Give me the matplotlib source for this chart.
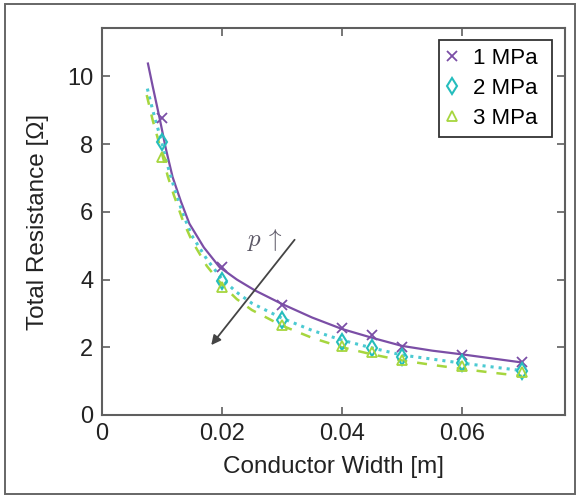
import matplotlib.pyplot as plt
from matplotlib.patches import Rectangle

plt.rcParams['font.family'] = ['Liberation Sans', 'DejaVu Sans']

# measured points
width = [0.01, 0.02, 0.03, 0.04, 0.045, 0.05, 0.06, 0.07]
r_1mpa = [8.78, 4.37, 3.26, 2.57, 2.35, 2.00, 1.78, 1.56]
r_2mpa = [8.05, 3.95, 2.82, 2.15, 1.98, 1.70, 1.53, 1.29]
r_3mpa = [7.62, 3.78, 2.67, 2.05, 1.85, 1.63, 1.46, 1.26]

# fitted curves
fit_w1 = [0.0077, 0.0085, 0.0096, 0.0107, 0.0118, 0.0132, 0.0146, 0.017, 0.0196, 0.0225,
          0.0255, 0.030, 0.035, 0.040, 0.045, 0.050, 0.055, 0.060, 0.065, 0.070]
fit_r1 = [10.38, 9.70, 8.80, 7.85, 7.03, 6.30, 5.65, 4.95, 4.37, 4.00,
          3.68, 3.28, 2.88, 2.54, 2.28, 2.04, 1.90, 1.79, 1.67, 1.55]
fit_w2 = [0.0076, 0.0085, 0.010, 0.011, 0.012, 0.0135, 0.015, 0.0175, 0.020, 0.0225,
          0.025, 0.030, 0.035, 0.040, 0.045, 0.050, 0.055, 0.060, 0.065, 0.070]
fit_r2 = [9.64, 9.00, 8.05, 7.35, 6.75, 5.95, 5.30, 4.60, 4.02, 3.62,
          3.30, 2.86, 2.50, 2.21, 1.98, 1.77, 1.65, 1.53, 1.42, 1.31]
fit_w3 = [0.0075, 0.0085, 0.010, 0.011, 0.012, 0.0135, 0.015, 0.0175, 0.020, 0.0225,
          0.025, 0.030, 0.035, 0.040, 0.045, 0.050, 0.055, 0.060, 0.065, 0.070]
fit_r3 = [9.45, 8.70, 7.75, 7.05, 6.50, 5.75, 5.15, 4.40, 3.85, 3.42,
          3.10, 2.64, 2.28, 2.00, 1.79, 1.61, 1.48, 1.36, 1.25, 1.15]

purple = '#7b4ea6'
teal = '#25bdbd'
cyan = '#4ccad2'
green = '#a6d63e'
frame = '#5f5f5f'

fig = plt.figure(figsize=(5.8, 4.98), dpi=100)
fig.patches.append(Rectangle((0.008, 0.008), 0.984, 0.984, transform=fig.transFigure,
                             fill=False, edgecolor='#666666', linewidth=1.4))
ax = fig.add_axes([0.1753, 0.1667, 0.7987, 0.7771])

ax.plot(fit_w1, fit_r1, '-', color=purple, lw=1.6)
ax.plot(fit_w2, fit_r2, ':', color=cyan, lw=2.2)
ax.plot(fit_w3, fit_r3, '--', color=green, lw=1.8, dashes=(4, 4))

ax.plot(width, r_1mpa, 'x', color=purple, ms=7, mew=1.3, label='1 MPa')
ax.plot(width, r_2mpa, 'd', color=teal, ms=8, mfc='none', mew=1.5, label='2 MPa')
ax.plot(width, r_3mpa, '^', color=green, ms=7, mfc='none', mew=1.3, label='3 MPa')

ax.annotate('', xy=(0.01795, 2.0), xytext=(0.0324, 5.24),
            arrowprops=dict(arrowstyle='-|>', color='#444444', lw=1.3, mutation_scale=14))
ax.text(0.0271, 5.16, r'$p\,\uparrow$', fontsize=18, color='#5c5866',
        ha='center', va='center', math_fontfamily='cm')

ax.set_xlim(0, 0.0771)
ax.set_ylim(0, 11.43)
ax.set_xticks([0, 0.02, 0.04, 0.06])
ax.set_xticklabels(['0', '0.02', '0.04', '0.06'])
ax.set_yticks([0, 2, 4, 6, 8, 10])
ax.tick_params(direction='in', top=True, right=True, length=6, width=1.2,
               color=frame, labelsize=17, labelcolor='#222222', pad=6)
for s in ax.spines.values():
    s.set_color(frame)
    s.set_linewidth(1.5)

ax.set_xlabel('Conductor Width [m]', fontsize=17.5, color='#222222', labelpad=8)
ax.set_ylabel('Total Resistance [Ω]', fontsize=17.5, color='#222222', labelpad=13)

leg = ax.legend(loc='upper left', bbox_to_anchor=(0.728, 0.5, 0.244, 0.469),
                mode='expand', borderaxespad=0, fontsize=16, fancybox=False,
                framealpha=1, edgecolor='#333333', handlelength=0.5,
                handletextpad=0.7, borderpad=0.35, labelspacing=0.41)
leg.get_frame().set_linewidth(1.3)

fig.savefig('out.png', dpi=100)
